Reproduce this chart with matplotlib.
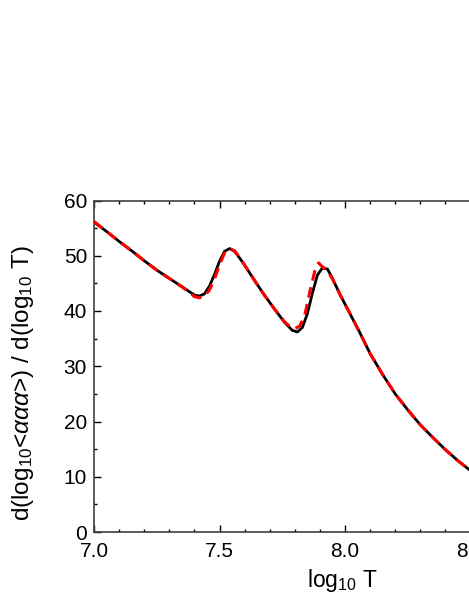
import matplotlib
matplotlib.use("Agg")
import matplotlib.pyplot as plt

plt.rcParams['font.family'] = ['Liberation Sans', 'DejaVu Sans']
plt.rcParams['mathtext.fontset'] = 'custom'
plt.rcParams['mathtext.rm'] = 'Liberation Sans'
plt.rcParams['mathtext.it'] = 'Liberation Sans:italic'

# log10 T values
logT_solid = [7.00, 7.05, 7.10, 7.15, 7.20, 7.25, 7.30, 7.35, 7.38, 7.40,
              7.42, 7.44, 7.46, 7.48, 7.50, 7.52, 7.54, 7.56, 7.58, 7.60,
              7.64, 7.68, 7.72, 7.76, 7.79, 7.81, 7.83, 7.85, 7.87, 7.89,
              7.91, 7.93, 7.95, 7.98, 8.02, 8.06, 8.10, 8.15, 8.20, 8.25,
              8.30, 8.35, 8.40, 8.45, 8.50]
slope_solid = [56.1, 54.4, 52.6, 50.9, 49.1, 47.4, 45.9, 44.4, 43.5, 42.9,
               42.7, 43.1, 44.5, 46.6, 49.0, 50.8, 51.3, 50.8, 49.6, 48.3,
               45.5, 42.8, 40.3, 37.9, 36.5, 36.2, 37.0, 39.5, 43.2, 46.5,
               47.8, 47.6, 45.9, 43.0, 39.5, 36.0, 32.3, 28.5, 25.0, 22.1,
               19.4, 17.1, 14.9, 12.9, 11.1]

logT_dash = [7.00, 7.05, 7.10, 7.15, 7.20, 7.25, 7.30, 7.35, 7.38, 7.40,
             7.42, 7.44, 7.46, 7.48, 7.50, 7.52, 7.54, 7.56, 7.58, 7.60,
             7.64, 7.68, 7.72, 7.76, 7.78, 7.80, 7.82, 7.84, 7.86, 7.88,
             7.895, 7.91, 7.93, 7.95, 7.98, 8.02, 8.06, 8.10, 8.15, 8.20,
             8.25, 8.30, 8.35, 8.40, 8.45, 8.50]
slope_dash = [56.2, 54.4, 52.6, 50.9, 49.1, 47.4, 45.9, 44.4, 43.4, 42.6,
              42.4, 42.7, 43.8, 45.8, 48.3, 50.5, 51.3, 50.9, 49.7, 48.3,
              45.5, 42.8, 40.3, 38.0, 37.2, 36.8, 37.3, 39.3, 43.5, 47.3,
              48.7, 48.0, 47.3, 45.8, 43.0, 39.5, 36.0, 32.3, 28.5, 25.0,
              22.1, 19.4, 17.1, 14.9, 12.9, 11.1]

fig = plt.figure(figsize=(4.69, 6.07), dpi=100)
ax = fig.add_axes([94 / 469, 75 / 607, 376.5 / 469, 331.5 / 607])

ax.plot(logT_solid, slope_solid, color='black', lw=2.0, zorder=2)
ax.plot(logT_dash, slope_dash, color='red', lw=2.2, dashes=(3.5, 2.2), zorder=3)

ax.set_xlim(7.0, 8.5)
ax.set_ylim(0, 60)
ax.set_xticks([7.0, 7.5, 8.0, 8.5])
ax.set_xticklabels(['7.0', '7.5', '8.0', '8.5'])
ax.set_xticks([7.1, 7.2, 7.3, 7.4, 7.6, 7.7, 7.8, 7.9, 8.1, 8.2, 8.3, 8.4], minor=True)
ax.set_yticks([0, 10, 20, 30, 40, 50, 60])
ax.set_yticks([5, 15, 25, 35, 45, 55], minor=True)

ax.tick_params(which='both', direction='in', top=True, right=False,
               labelsize=15, width=1.0, color='black')
ax.tick_params(which='major', length=5)
ax.tick_params(which='minor', length=2.5)
ax.tick_params(axis='x', which='major', pad=7)
ax.tick_params(axis='y', which='major', pad=5)
for sp in ax.spines.values():
    sp.set_linewidth(1.2)
    sp.set_color('#404040')

ax.set_xlabel(r'log$_{10}$ T', fontsize=16.5)
ax.xaxis.set_label_coords(0.659, -0.105)
ax.set_ylabel(r'd(log$_{10}$<$\alpha\alpha\alpha$>) / d(log$_{10}$ T)', fontsize=17.5)
ax.yaxis.set_label_coords(-0.155, 0.45)

fig.savefig('out.png', dpi=100)
